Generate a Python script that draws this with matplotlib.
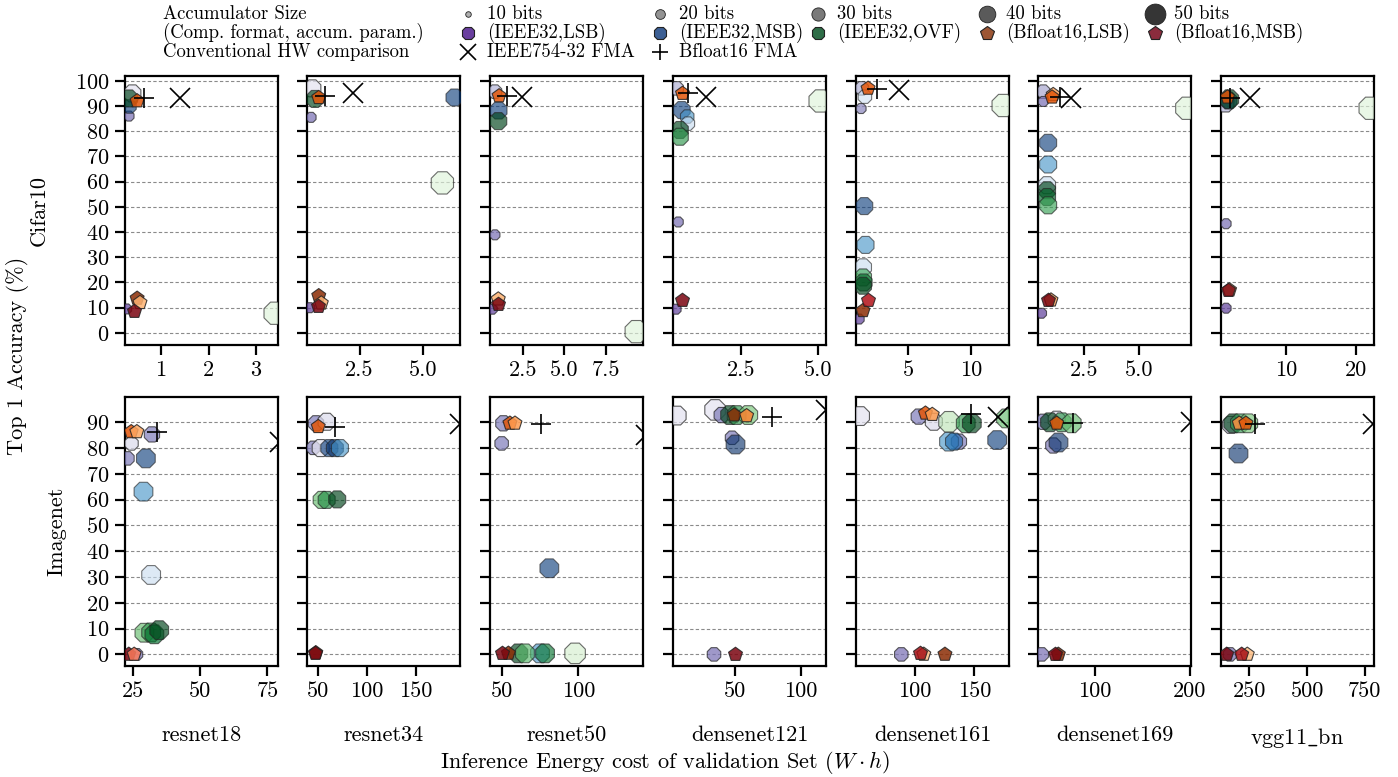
import matplotlib
matplotlib.use("Agg")
import matplotlib.pyplot as plt
from matplotlib.lines import Line2D
from matplotlib import colormaps

plt.rcParams['font.family'] = ['cmr10', 'DejaVu Serif']
plt.rcParams['mathtext.fontset'] = 'cm'
plt.rcParams['axes.formatter.use_mathtext'] = True
plt.rcParams['axes.unicode_minus'] = False

# ---------------- data ----------------
models = ["resnet18", "resnet34", "resnet50", "densenet121", "densenet161", "densenet169", "vgg11_bn"]
model_labels = ["resnet18", "resnet34", "resnet50", "densenet121", "densenet161", "densenet169", r"vgg11$\_$bn"]
datasets = ["Cifar10", "Imagenet"]

cifar_xticks = [[1, 2, 3], [2.5, 5.0], [2.5, 5.0, 7.5], [2.5, 5.0], [5, 10], [2.5, 5.0], [10, 20]]
cifar_xticklabels = [["1", "2", "3"], ["2.5", "5.0"], ["2.5", "5.0", "7.5"], ["2.5", "5.0"], ["5", "10"], ["2.5", "5.0"], ["10", "20"]]
imagenet_xticks = [[25, 50, 75], [50, 100, 150], [50, 100], [50, 100], [100, 150], [100, 200], [250, 500, 750]]
imagenet_xticklabels = [["25", "50", "75"], ["50", "100", "150"], ["50", "100"], ["50", "100"], ["100", "150"], ["100", "200"], ["250", "500", "750"]]
cifar_yticks = list(range(0, 101, 10))
imagenet_yticks = list(range(0, 91, 10))

series_names = ["(IEEE32,LSB)", "(IEEE32,MSB)", "(IEEE32,OVF)", "(Bfloat16,LSB)", "(Bfloat16,MSB)"]
bit_sizes = [10, 20, 30, 40, 50]

# (model, dataset, energy W*h, top1 accuracy %, accumulator bits, shade)
ieee32_lsb = [
    ("resnet18", "Cifar10", 0.40, 95.0, 30, 0.05), ("resnet18", "Cifar10", 0.33, 86.0, 10, 0.6),
    ("resnet18", "Cifar10", 0.28, 9.5, 10, 0.75),
    ("resnet34", "Cifar10", 0.65, 97.0, 30, 0.05), ("resnet34", "Cifar10", 0.60, 85.5, 10, 0.6),
    ("resnet34", "Cifar10", 0.55, 10.0, 10, 0.75),
    ("resnet50", "Cifar10", 0.80, 95.7, 20, 0.3), ("resnet50", "Cifar10", 0.80, 38.9, 10, 0.6),
    ("resnet50", "Cifar10", 0.64, 9.4, 10, 0.75),
    ("densenet121", "Cifar10", 0.42, 97.0, 20, 0.3), ("densenet121", "Cifar10", 0.47, 44.0, 10, 0.6),
    ("densenet121", "Cifar10", 0.40, 9.4, 10, 0.75),
    ("densenet161", "Cifar10", 1.35, 97.0, 20, 0.3), ("densenet161", "Cifar10", 1.30, 89.0, 10, 0.5),
    ("densenet161", "Cifar10", 1.15, 5.5, 10, 0.75),
    ("densenet169", "Cifar10", 0.65, 95.7, 20, 0.35), ("densenet169", "Cifar10", 0.65, 91.8, 10, 0.6),
    ("densenet169", "Cifar10", 0.57, 7.8, 10, 0.75),
    ("vgg11_bn", "Cifar10", 1.30, 91.0, 30, 0.3), ("vgg11_bn", "Cifar10", 1.40, 43.3, 10, 0.6),
    ("vgg11_bn", "Cifar10", 1.40, 9.8, 10, 0.75),
    ("resnet18", "Imagenet", 32.1, 85.3, 25, 0.55), ("resnet18", "Imagenet", 23.0, 76.0, 20, 0.55),
    ("resnet18", "Imagenet", 24.5, 81.8, 20, 0.1), ("resnet18", "Imagenet", 26.5, 0.0, 15, 0.6),
    ("resnet34", "Imagenet", 47.7, 89.6, 25, 0.55), ("resnet34", "Imagenet", 58.6, 90.2, 30, 0.1),
    ("resnet34", "Imagenet", 44.9, 80.1, 20, 0.55), ("resnet34", "Imagenet", 52.5, 80.0, 30, 0.05),
    ("resnet50", "Imagenet", 51.1, 89.6, 25, 0.55), ("resnet50", "Imagenet", 50.0, 81.8, 20, 0.55),
    ("densenet121", "Imagenet", 6.3, 92.6, 35, 0.05), ("densenet121", "Imagenet", 35.2, 94.8, 40, 0.05),
    ("densenet121", "Imagenet", 40.2, 92.8, 25, 0.55), ("densenet121", "Imagenet", 48.0, 84.0, 20, 0.55),
    ("densenet121", "Imagenet", 34.4, 0.0, 20, 0.6),
    ("densenet161", "Imagenet", 54.3, 92.4, 35, 0.05), ("densenet161", "Imagenet", 103.4, 92.2, 25, 0.55),
    ("densenet161", "Imagenet", 116.0, 90.2, 30, 0.1), ("densenet161", "Imagenet", 137.0, 82.5, 25, 0.55),
    ("densenet161", "Imagenet", 88.8, 0.0, 20, 0.6),
    ("densenet169", "Imagenet", 45.6, 90.2, 25, 0.55), ("densenet169", "Imagenet", 59.7, 91.0, 30, 0.1),
    ("densenet169", "Imagenet", 56.1, 81.0, 25, 0.55), ("densenet169", "Imagenet", 43.9, 0.0, 20, 0.6),
    ("vgg11_bn", "Imagenet", 170.0, 89.0, 30, 0.2), ("vgg11_bn", "Imagenet", 166.0, 0.0, 20, 0.6),
]

ieee32_msb = [
    ("resnet18", "Cifar10", 0.32, 90.0, 20, 0.95),
    ("resnet34", "Cifar10", 6.20, 93.7, 30, 0.95),
    ("resnet50", "Cifar10", 1.00, 88.4, 30, 0.95),
    ("densenet121", "Cifar10", 0.58, 88.4, 30, 0.95), ("densenet121", "Cifar10", 0.76, 85.8, 20, 0.55),
    ("densenet121", "Cifar10", 0.78, 83.0, 20, 0.12),
    ("densenet161", "Cifar10", 1.60, 93.7, 20, 0.05), ("densenet161", "Cifar10", 1.55, 50.3, 30, 0.95),
    ("densenet161", "Cifar10", 1.65, 34.9, 30, 0.55), ("densenet161", "Cifar10", 1.45, 26.0, 30, 0.1),
    ("densenet169", "Cifar10", 0.87, 75.4, 30, 0.95), ("densenet169", "Cifar10", 0.87, 66.8, 30, 0.55),
    ("densenet169", "Cifar10", 0.82, 58.6, 30, 0.1),
    ("vgg11_bn", "Cifar10", 1.70, 92.2, 30, 1.0),
    ("resnet18", "Imagenet", 29.85, 76.0, 35, 0.95), ("resnet18", "Imagenet", 28.96, 63.1, 35, 0.55),
    ("resnet18", "Imagenet", 31.8, 30.8, 35, 0.1),
    ("resnet34", "Imagenet", 61.3, 80.0, 30, 0.95), ("resnet34", "Imagenet", 67.0, 80.0, 30, 1.0),
    ("resnet34", "Imagenet", 72.2, 80.0, 30, 0.55),
    ("resnet50", "Imagenet", 81.1, 33.4, 35, 0.95), ("resnet50", "Imagenet", 75.0, 0.4, 35, 0.55),
    ("densenet121", "Imagenet", 50.2, 81.5, 35, 1.0),
    ("densenet161", "Imagenet", 128.7, 82.5, 35, 0.55), ("densenet161", "Imagenet", 132.9, 82.5, 30, 0.75),
    ("densenet161", "Imagenet", 169.0, 83.1, 35, 0.95),
    ("densenet169", "Imagenet", 61.4, 82.5, 35, 1.0),
    ("vgg11_bn", "Imagenet", 202.0, 78.2, 35, 1.0),
]

ieee32_ovf = [
    ("resnet18", "Cifar10", 0.33, 93.0, 30, 1.0), ("resnet18", "Cifar10", 3.40, 7.8, 45, 0.0),
    ("resnet34", "Cifar10", 0.75, 92.8, 30, 1.0), ("resnet34", "Cifar10", 5.74, 59.5, 45, 0.0),
    ("resnet50", "Cifar10", 1.00, 84.0, 30, 1.0), ("resnet50", "Cifar10", 9.35, 0.5, 45, 0.0),
    ("densenet121", "Cifar10", 0.52, 80.5, 30, 1.0), ("densenet121", "Cifar10", 0.52, 77.8, 30, 0.65),
    ("densenet121", "Cifar10", 5.06, 92.0, 45, 0.0),
    ("densenet161", "Cifar10", 1.45, 22.0, 30, 0.55), ("densenet161", "Cifar10", 1.50, 20.0, 30, 0.8),
    ("densenet161", "Cifar10", 1.45, 18.7, 30, 1.0), ("densenet161", "Cifar10", 12.5, 90.2, 45, 0.0),
    ("densenet169", "Cifar10", 0.82, 56.6, 30, 1.0), ("densenet169", "Cifar10", 0.82, 53.9, 30, 0.9),
    ("densenet169", "Cifar10", 0.87, 50.6, 30, 0.6), ("densenet169", "Cifar10", 7.17, 89.1, 45, 0.0),
    ("vgg11_bn", "Cifar10", 1.85, 92.7, 35, 1.0), ("vgg11_bn", "Cifar10", 22.05, 89.1, 45, 0.0),
    ("resnet18", "Imagenet", 29.3, 8.4, 35, 0.45), ("resnet18", "Imagenet", 31.8, 8.5, 35, 0.65),
    ("resnet18", "Imagenet", 33.0, 7.8, 35, 0.85), ("resnet18", "Imagenet", 34.8, 9.4, 35, 1.0),
    ("resnet34", "Imagenet", 53.5, 59.9, 30, 0.45), ("resnet34", "Imagenet", 58.6, 59.9, 30, 0.7),
    ("resnet34", "Imagenet", 69.4, 60.1, 30, 1.0),
    ("resnet50", "Imagenet", 60.9, 0.4, 35, 1.0), ("resnet50", "Imagenet", 65.2, 0.4, 35, 0.5),
    ("resnet50", "Imagenet", 78.3, 0.4, 35, 0.8), ("resnet50", "Imagenet", 97.9, 0.4, 40, 0.05),
    ("densenet121", "Imagenet", 46.5, 92.8, 35, 1.0), ("densenet121", "Imagenet", 51.5, 92.8, 35, 0.65),
    ("densenet121", "Imagenet", 60.2, 92.8, 35, 0.4),
    ("densenet161", "Imagenet", 128.7, 90.2, 40, 0.15), ("densenet161", "Imagenet", 142.7, 89.6, 35, 0.65),
    ("densenet161", "Imagenet", 147.8, 89.6, 35, 1.0), ("densenet161", "Imagenet", 176.4, 91.5, 35, 0.45),
    ("densenet169", "Imagenet", 52.6, 90.0, 35, 1.0), ("densenet169", "Imagenet", 65.0, 90.0, 35, 0.65),
    ("densenet169", "Imagenet", 75.5, 89.6, 35, 0.45),
    ("vgg11_bn", "Imagenet", 180.0, 89.6, 35, 1.0), ("vgg11_bn", "Imagenet", 209.0, 89.6, 35, 0.65),
    ("vgg11_bn", "Imagenet", 245.0, 89.6, 35, 0.4),
]

bfloat16_lsb = [
    ("resnet18", "Cifar10", 0.50, 92.0, 20, 0.65), ("resnet18", "Cifar10", 0.50, 13.7, 20, 0.95),
    ("resnet18", "Cifar10", 0.56, 12.0, 20, 0.25),
    ("resnet34", "Cifar10", 0.90, 93.3, 20, 0.65), ("resnet34", "Cifar10", 0.90, 14.7, 20, 0.95),
    ("resnet34", "Cifar10", 1.00, 11.8, 20, 0.25),
    ("resnet50", "Cifar10", 1.05, 94.0, 20, 0.65), ("resnet50", "Cifar10", 1.00, 13.4, 20, 0.25),
    ("densenet121", "Cifar10", 0.60, 95.1, 20, 0.65),
    ("densenet161", "Cifar10", 1.85, 97.0, 20, 0.65), ("densenet161", "Cifar10", 1.45, 8.8, 20, 0.95),
    ("densenet169", "Cifar10", 1.10, 94.5, 20, 0.3), ("densenet169", "Cifar10", 1.05, 93.5, 20, 0.65),
    ("densenet169", "Cifar10", 1.00, 13.0, 20, 0.3),
    ("vgg11_bn", "Cifar10", 1.60, 93.5, 20, 0.65), ("vgg11_bn", "Cifar10", 1.90, 17.0, 20, 0.25),
    ("resnet18", "Imagenet", 24.4, 86.3, 20, 0.65), ("resnet18", "Imagenet", 26.5, 86.3, 20, 0.3),
    ("resnet34", "Imagenet", 47.5, 0.6, 20, 0.95), ("resnet34", "Imagenet", 50.0, 88.3, 20, 0.65),
    ("resnet50", "Imagenet", 55.4, 89.6, 20, 0.65), ("resnet50", "Imagenet", 58.7, 89.6, 20, 0.35),
    ("resnet50", "Imagenet", 54.4, 0.4, 20, 0.95),
    ("densenet121", "Imagenet", 49.7, 92.8, 20, 0.95), ("densenet121", "Imagenet", 59.0, 92.5, 20, 0.45),
    ("densenet161", "Imagenet", 109.0, 93.5, 20, 0.65), ("densenet161", "Imagenet", 114.7, 93.0, 20, 0.35),
    ("densenet161", "Imagenet", 107.6, 0.0, 20, 0.2), ("densenet161", "Imagenet", 125.3, 0.0, 20, 0.95),
    ("densenet169", "Imagenet", 61.4, 0.0, 20, 0.95), ("densenet169", "Imagenet", 59.7, 89.6, 20, 0.65),
    ("vgg11_bn", "Imagenet", 206.0, 89.6, 20, 0.4), ("vgg11_bn", "Imagenet", 235.0, 89.6, 20, 0.65),
    ("vgg11_bn", "Imagenet", 241.0, 0.0, 20, 0.2),
]

bfloat16_msb = [
    ("resnet18", "Cifar10", 0.43, 8.8, 20, 0.95),
    ("resnet34", "Cifar10", 0.87, 10.8, 20, 0.95),
    ("resnet50", "Cifar10", 1.00, 11.4, 20, 0.95),
    ("densenet121", "Cifar10", 0.60, 13.0, 20, 0.95),
    ("densenet161", "Cifar10", 1.85, 13.0, 20, 0.8),
    ("densenet169", "Cifar10", 0.87, 13.0, 20, 0.95),
    ("vgg11_bn", "Cifar10", 1.70, 17.0, 20, 0.95),
    ("resnet18", "Imagenet", 23.5, 0.0, 20, 0.95), ("resnet18", "Imagenet", 25.5, 0.0, 20, 0.35),
    ("resnet34", "Imagenet", 46.7, 0.6, 20, 0.95),
    ("resnet50", "Imagenet", 50.0, 0.4, 20, 0.95),
    ("densenet121", "Imagenet", 50.4, 0.0, 20, 0.95),
    ("densenet161", "Imagenet", 104.8, 0.5, 20, 0.85),
    ("densenet169", "Imagenet", 57.9, 0.0, 20, 0.95),
    ("vgg11_bn", "Imagenet", 151.7, 0.0, 20, 0.95), ("vgg11_bn", "Imagenet", 216.7, 0.0, 20, 0.85),
]

# conventional hardware: (model, dataset, energy, accuracy)
ieee754_fma = [
    ("resnet18", "Cifar10", 1.41, 93.0), ("resnet34", "Cifar10", 2.24, 95.0), ("resnet50", "Cifar10", 2.46, 93.5),
    ("densenet121", "Cifar10", 1.37, 93.7), ("densenet161", "Cifar10", 4.26, 96.4),
    ("densenet169", "Cifar10", 1.90, 93.3), ("vgg11_bn", "Cifar10", 4.83, 93.1),
    ("resnet18", "Imagenet", 79.5, 82.2), ("resnet34", "Imagenet", 194.6, 89.2), ("resnet50", "Imagenet", 144.0, 85.1),
    ("densenet121", "Imagenet", 118.5, 94.8), ("densenet161", "Imagenet", 169.4, 92.2),
    ("densenet169", "Imagenet", 201.0, 90.0), ("vgg11_bn", "Imagenet", 786.0, 89.3),
]
bfloat16_fma = [
    ("resnet18", "Cifar10", 0.65, 93.0), ("resnet34", "Cifar10", 1.14, 94.0), ("resnet50", "Cifar10", 1.50, 94.0),
    ("densenet121", "Cifar10", 0.80, 95.0), ("densenet161", "Cifar10", 2.54, 96.7),
    ("densenet169", "Cifar10", 1.41, 93.7), ("vgg11_bn", "Cifar10", 1.96, 93.1),
    ("resnet18", "Imagenet", 34.0, 86.1), ("resnet34", "Imagenet", 67.1, 88.3), ("resnet50", "Imagenet", 75.7, 89.2),
    ("densenet121", "Imagenet", 78.3, 92.2), ("densenet161", "Imagenet", 147.5, 93.2),
    ("densenet169", "Imagenet", 77.2, 89.6), ("vgg11_bn", "Imagenet", 274.4, 89.3),
]

# ---------------- style / layout ----------------
series_data = [ieee32_lsb, ieee32_msb, ieee32_ovf, bfloat16_lsb, bfloat16_msb]
series_cmaps = ["Purples", "Blues", "Greens", "Oranges", "Reds"]
series_markers = ["8", "8", "8", "p", "p"]
series_alpha = [0.72, 0.62, 0.66, 0.85, 0.85]
legend_colors = ["#6a3f9f", "#3c5f94", "#2e6d47", "#9d5634", "#8b2c3d"]
bits_grays = ["#b0b0b0", "#939393", "#7a7a7a", "#5a5a5a", "#353535"]
bits_ms = [4, 7, 9.5, 12, 15]

W, H = 1398, 777
fig = plt.figure(figsize=(W / 100, H / 100), dpi=100)

col_left_px = [125, 307, 490, 673, 856, 1038, 1221]
row_top_px = [76, 397]
ax_w_px, ax_h_px = 153, 269
xlims = [
    [(0.245, 3.46), (0.44, 6.43), (0.5, 9.76), (0.3, 5.25), (0.9, 12.96), (0.41, 7.36), (0.67, 22.6)],
    [(22.1, 78.9), (38.5, 195.0), (42.4, 142.2), (3.5, 118.8), (50.9, 178.9), (40.0, 201.0), (127.0, 790.0)],
]
ylims = [(-4.8, 101.9), (-4.5, 99.8)]
ylabel_x = [-0.497, -0.386]
FS = 16


def size_pts2(bits):
    d_px = 7 + 0.38 * bits
    return (d_px / 1.389) ** 2


for r, ds in enumerate(datasets):
    for c, m in enumerate(models):
        l = col_left_px[c] / W
        b = 1 - (row_top_px[r] + ax_h_px) / H
        ax = fig.add_axes([l, b, ax_w_px / W, ax_h_px / H])
        for sp in ax.spines.values():
            sp.set_linewidth(1.6)
            sp.set_color("black")
        ax.set_axisbelow(True)
        ax.yaxis.grid(True, linestyle=(0, (3, 2)), color="#8a8a8a", linewidth=0.8)
        ax.tick_params(direction="out", length=7, width=1.6, labelsize=FS, pad=4, colors="black")
        ax.set_xlim(*xlims[r][c])
        ax.set_ylim(*ylims[r])
        if r == 0:
            ax.set_xticks(cifar_xticks[c], cifar_xticklabels[c])
            ax.set_yticks(cifar_yticks)
        else:
            ax.set_xticks(imagenet_xticks[c], imagenet_xticklabels[c])
            ax.set_yticks(imagenet_yticks)
        if c != 0:
            ax.tick_params(labelleft=False)
        else:
            ax.set_ylabel(ds, fontsize=FS)
            ax.yaxis.set_label_coords(ylabel_x[r], 0.5)
        if r == 1:
            ax.set_xlabel(model_labels[c], fontsize=FS, labelpad=18)

        for pts, cmap_name, mk, al in zip(series_data, series_cmaps, series_markers, series_alpha):
            sel = [p for p in pts if p[0] == m and p[1] == ds]
            if not sel:
                continue
            cmap = colormaps[cmap_name]
            xs = [p[2] for p in sel]
            ys = [p[3] for p in sel]
            ss = [size_pts2(p[4]) for p in sel]
            cs = [cmap(0.15 + 0.85 * p[5]) for p in sel]
            ax.scatter(xs, ys, s=ss, c=cs, marker=mk, edgecolors="#222222",
                       linewidths=0.8, alpha=al, zorder=3)

        for pts, mk in ((ieee754_fma, "x"), (bfloat16_fma, "+")):
            sel = [p for p in pts if p[0] == m and p[1] == ds]
            ax.plot([p[2] for p in sel], [p[3] for p in sel], ls="none", marker=mk,
                    ms=14, mew=1.2, color="black", zorder=5)

fig.text(18 / W, 1 - 356 / H, "Top 1 Accuracy (%)", rotation=90, ha="center", va="center", fontsize=FS)
fig.text(665 / W, 1 - 763 / H, r"Inference Energy cost of validation Set ($W \cdot h$)",
         ha="center", va="center", fontsize=FS)

# ---------------- legend (manual layout) ----------------
LFS = 13.5
row_y = [1 - 14 / H, 1 - 33 / H, 1 - 52 / H]
col_x = [468, 660, 818, 987, 1155]
txt_off = 19
fig.text(163 / W, row_y[0], "Accumulator Size", fontsize=LFS, va="center", ha="left")
fig.text(163 / W, row_y[1], "(Comp. format, accum. param.)", fontsize=LFS, va="center", ha="left")
fig.text(163 / W, row_y[2], "Conventional HW comparison", fontsize=LFS, va="center", ha="left")

for i, bits in enumerate(bit_sizes):
    x = col_x[i] / W
    fig.add_artist(Line2D([x], [row_y[0]], marker="o", ms=bits_ms[i], color=bits_grays[i],
                          mec="#222222", mew=0.6, ls="none", transform=fig.transFigure))
    fig.text((col_x[i] + txt_off) / W, row_y[0], f"{bits} bits", fontsize=LFS, va="center", ha="left")
for i, name in enumerate(series_names):
    x = col_x[i] / W
    fig.add_artist(Line2D([x], [row_y[1]], marker=series_markers[i], ms=10, color=legend_colors[i],
                          mec="#222222", mew=0.8, ls="none", transform=fig.transFigure))
    fig.text((col_x[i] + txt_off) / W, row_y[1], name, fontsize=LFS, va="center", ha="left")
for i, (mk, name) in enumerate((("x", "IEEE754-32 FMA"), ("+", "Bfloat16 FMA"))):
    x = col_x[i] / W
    fig.add_artist(Line2D([x], [row_y[2]], marker=mk, ms=12, mew=1.2, color="black",
                          ls="none", transform=fig.transFigure))
    fig.text((col_x[i] + txt_off) / W, row_y[2], name, fontsize=LFS, va="center", ha="left")

fig.savefig("out.png", dpi=100)
